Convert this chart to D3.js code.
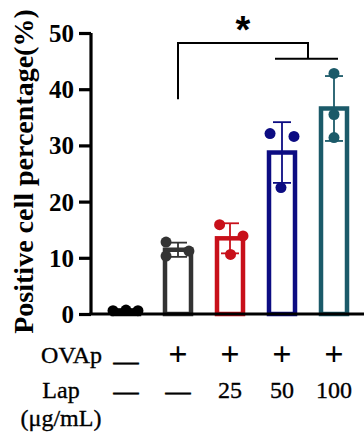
<!DOCTYPE html>
<html>
<head>
<meta charset="utf-8">
<script src="https://cdn.jsdelivr.net/npm/d3@7"></script>
<style>
  html, body { margin: 0; padding: 0; background: #fff; }
  svg { display: block; }
</style>
</head>
<body>
<div id="chart"></div>
<script>
// groups and replicate values (%)
const groups = ["ctrl", "OVAp", "Lap25", "Lap50", "Lap100"];
const replicates = [
  [0.6, 0.7, 0.6],
  [12.8, 11.2, 10.3],
  [15.9, 13.9, 10.6],
  [32.1, 31.6, 22.5],
  [42.8, 35.5, 31.4],
];
const ovapRow = ["—", "+", "+", "+", "+"];
const lapRow = ["—", "—", "25", "50", "100"];
const yTicks = [0, 10, 20, 30, 40, 50];
const colors = ["#000000", "#333333", "#c8101a", "#0c0c82", "#1b5a69"];
// horizontal spread of the dots, as a share of the bar width
const dotJitter = [
  [-0.5, 0, 0.46],
  [-0.46, 0.42, -0.46],
  [-0.4, 0.5, 0.02],
  [-0.46, 0.46, -0.04],
  [0, 0, 0],
];

const serif = '"Liberation Serif", "Times New Roman", serif';
const width = 364, height = 434;
const svg = d3.select("#chart").append("svg")
  .attr("width", width)
  .attr("height", height)
  .attr("font-family", serif);

const x = d3.scaleBand()
  .domain(groups)
  .range([100, 360])
  .paddingInner(0.5)
  .paddingOuter(0.25);
const y = d3.scaleLinear().domain([0, 50]).range([314, 33]);
const cx = (g) => x(g) + x.bandwidth() / 2;

const stats = replicates.map((v) => ({ mean: d3.mean(v), sd: d3.deviation(v) }));

// bars
svg.append("g").selectAll("rect")
  .data(groups)
  .join("rect")
  .attr("x", (d) => x(d))
  .attr("y", (d, i) => y(stats[i].mean))
  .attr("width", x.bandwidth())
  .attr("height", (d, i) => y(0) - y(stats[i].mean))
  .attr("fill", "none")
  .attr("stroke", (d, i) => colors[i])
  .attr("stroke-width", 4.5);

// error bars
const eb = svg.append("g").selectAll("g")
  .data(groups)
  .join("g")
  .attr("stroke", (d, i) => colors[i])
  .attr("stroke-width", 1.8);
eb.append("line")
  .attr("x1", (d) => cx(d)).attr("x2", (d) => cx(d))
  .attr("y1", (d, i) => y(stats[i].mean - stats[i].sd))
  .attr("y2", (d, i) => y(stats[i].mean + stats[i].sd));
[-1, 1].forEach((s) => {
  eb.append("line")
    .attr("x1", (d) => cx(d) - 9).attr("x2", (d) => cx(d) + 9)
    .attr("y1", (d, i) => y(stats[i].mean + s * stats[i].sd))
    .attr("y2", (d, i) => y(stats[i].mean + s * stats[i].sd));
});

// dots
groups.forEach((g, i) => {
  svg.append("g").selectAll("circle")
    .data(replicates[i])
    .join("circle")
    .attr("cx", (d, j) => cx(g) + dotJitter[i][j] * x.bandwidth())
    .attr("cy", (d) => y(d))
    .attr("r", 5.5)
    .attr("fill", colors[i]);
});

// axes
const yAxis = svg.append("g")
  .attr("transform", "translate(91,0)")
  .call(d3.axisLeft(y).tickValues(yTicks).tickSize(12).tickPadding(5))
  .attr("font-family", serif)
  .attr("font-size", 25)
  .attr("font-weight", "bold");
yAxis.select(".domain").attr("d", `M0,${y(50)}V${y(0)}`);
yAxis.selectAll("line, path").attr("stroke", "#000").attr("stroke-width", 3.2);
yAxis.selectAll("text")
  .attr("fill", "#000")
  .attr("dy", "0.34em");

svg.append("line")
  .attr("x1", 89.5).attr("x2", width)
  .attr("y1", y(0)).attr("y2", y(0))
  .attr("stroke", "#000").attr("stroke-width", 3.2);

svg.append("text")
  .attr("transform", `translate(33,${(y(50) + y(0)) / 2 - 2}) rotate(-90)`)
  .attr("text-anchor", "middle")
  .attr("font-size", 28)
  .attr("font-weight", "bold")
  .text("Positive cell percentage(%)");

// significance bracket
const bracketTop = y(48.2), bracketLow = y(45.4);
const midX = (cx("Lap50") + cx("Lap100")) / 2;
svg.append("path")
  .attr("d", `M${cx("OVAp")},${y(38.2)}V${bracketTop}H${midX}V${bracketLow}` +
    `M${cx("Lap50") - 7},${bracketLow}H${cx("Lap100") + 4}`)
  .attr("fill", "none")
  .attr("stroke", "#000")
  .attr("stroke-width", 2);
svg.append("text")
  .attr("x", (cx("OVAp") + midX) / 2)
  .attr("y", 43)
  .attr("text-anchor", "middle")
  .attr("font-family", '"Liberation Sans", Arial, sans-serif')
  .attr("font-size", 38)
  .attr("font-weight", "bold")
  .text("*");

// condition table
const table = svg.append("g").attr("stroke", "#000").attr("stroke-width", 0.35);
table.append("text").attr("x", 102).attr("y", 363)
  .attr("text-anchor", "end").attr("font-size", 24).text("OVAp");
table.append("text").attr("x", 61).attr("y", 398)
  .attr("text-anchor", "middle").attr("font-size", 24).text("Lap");
table.append("text").attr("x", 61).attr("y", 426)
  .attr("text-anchor", "middle").attr("font-size", 24).text("(μg/mL)");

table.append("g").selectAll("text")
  .data(ovapRow)
  .join("text")
  .attr("x", (d, i) => cx(groups[i]))
  .attr("y", (d) => (d === "+" ? 365 : 370))
  .attr("text-anchor", "middle")
  .attr("font-size", (d) => (d === "+" ? 34 : 25))
  .attr("font-weight", (d) => (d === "+" ? "bold" : "normal"))
  .attr("stroke-width", (d) => (d === "+" ? 0 : 0.8))
  .text((d) => d);

table.append("g").selectAll("text")
  .data(lapRow)
  .join("text")
  .attr("x", (d, i) => cx(groups[i]))
  .attr("y", (d) => (d === "—" ? 400 : 398))
  .attr("text-anchor", "middle")
  .attr("font-size", (d) => (d === "—" ? 25 : 24))
  .attr("stroke-width", (d) => (d === "—" ? 0.8 : 0.35))
  .text((d) => d);
</script>
</body>
</html>
